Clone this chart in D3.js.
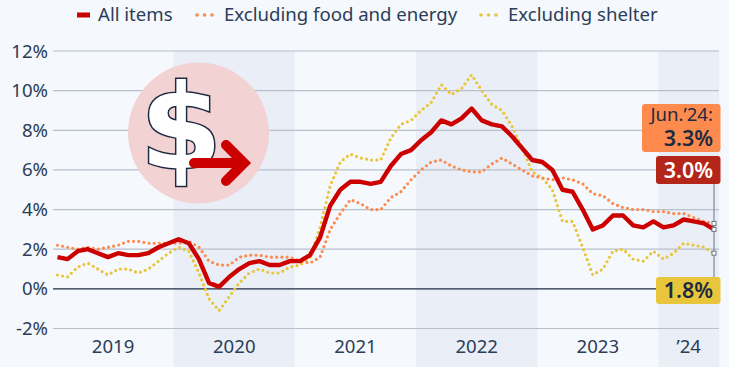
<!DOCTYPE html>
<html>
<head>
<meta charset="utf-8">
<script src="https://cdn.jsdelivr.net/npm/d3@7"></script>
<style>
  html, body { margin: 0; padding: 0; background: #f5f8fc; overflow: hidden; }
  text { font-family: "Noto Sans", sans-serif; }
</style>
</head>
<body>
<div id="chart"></div>
<script>
// monthly values, Jan 2019 to Jun 2024
const allItems = [
  1.6, 1.5, 1.9, 2.0, 1.8, 1.6, 1.8, 1.7, 1.7, 1.8, 2.1, 2.3,
  2.5, 2.3, 1.5, 0.3, 0.1, 0.6, 1.0, 1.3, 1.4, 1.2, 1.2, 1.4,
  1.4, 1.7, 2.6, 4.2, 5.0, 5.4, 5.4, 5.3, 5.4, 6.2, 6.8, 7.0,
  7.5, 7.9, 8.5, 8.3, 8.6, 9.1, 8.5, 8.3, 8.2, 7.7, 7.1, 6.5,
  6.4, 6.0, 5.0, 4.9, 4.0, 3.0, 3.2, 3.7, 3.7, 3.2, 3.1, 3.4,
  3.1, 3.2, 3.5, 3.4, 3.3, 3.0
];
const exFoodEnergy = [
  2.2, 2.1, 2.0, 2.1, 2.0, 2.1, 2.2, 2.4, 2.4, 2.3, 2.3, 2.3,
  2.3, 2.4, 2.1, 1.4, 1.2, 1.2, 1.6, 1.7, 1.7, 1.6, 1.6, 1.6,
  1.4, 1.3, 1.6, 3.0, 3.8, 4.5, 4.3, 4.0, 4.0, 4.6, 4.9, 5.5,
  6.0, 6.4, 6.5, 6.2, 6.0, 5.9, 5.9, 6.3, 6.6, 6.3, 6.0, 5.7,
  5.6, 5.5, 5.6, 5.5, 5.3, 4.8, 4.7, 4.3, 4.1, 4.0, 4.0, 3.9,
  3.9, 3.8, 3.8, 3.6, 3.4, 3.3
];
const exShelter = [
  0.7, 0.6, 1.1, 1.3, 1.0, 0.7, 1.0, 1.0, 0.8, 1.0, 1.4, 1.8,
  2.1, 1.9, 0.8, -0.5, -1.1, -0.4, 0.3, 0.8, 1.0, 0.8, 0.8, 1.1,
  1.2, 1.6, 3.1, 5.2, 6.4, 6.8, 6.6, 6.5, 6.5, 7.6, 8.3, 8.5,
  9.0, 9.4, 10.3, 9.8, 10.1, 10.8, 10.0, 9.3, 9.0, 8.2, 7.1, 5.9,
  5.6, 5.0, 3.4, 3.4, 2.1, 0.7, 1.0, 1.9, 2.0, 1.5, 1.4, 1.9,
  1.5, 1.8, 2.3, 2.2, 2.1, 1.8
];
const yTicks = [-2, 0, 2, 4, 6, 8, 10, 12];
const yearLabels = ["2019", "2020", "2021", "2022", "2023", "’24"];
const yearStarts = [0, 12, 24, 36, 48, 60];   // month index
const seriesNames = ["All items", "Excluding food and energy", "Excluding shelter"];

const width = 729, height = 367;
const ink = "#2b3d57", dark = "#1c2b42";
const red = "#cc0000", orange = "#ff8a4d", yellow = "#e8c53a";

const x = d3.scaleLinear().domain([0, 65]).range([57.5, 714]);
const y = d3.scaleLinear().domain([-2, 12]).range([328.5, 51]);
const lastMonth = x.domain()[1];

const svg = d3.select("#chart").append("svg")
  .attr("width", width).attr("height", height)
  .style("display", "block");

// shaded bands for every second year
yearStarts.forEach((s, i) => {
  if (i % 2 === 0) return;
  const end = Math.min(s + 12, lastMonth + 1);
  svg.append("rect")
    .attr("x", x(s - 0.5)).attr("y", y(12))
    .attr("width", x(end - 0.5) - x(s - 0.5))
    .attr("height", height - y(12))
    .attr("fill", "#eaeff7");
});

// grid lines
svg.selectAll(".grid").data(yTicks).join("line")
  .attr("class", "grid")
  .attr("x1", 53).attr("x2", x(lastMonth + 0.5))
  .attr("y1", d => y(d)).attr("y2", d => y(d))
  .attr("stroke", d => d === 0 ? dark : "#b8c0ce")
  .attr("stroke-width", d => d === 12 ? 1.5 : 1.2)
  .attr("stroke-opacity", d => d === 12 ? 0.7 : 1);

svg.selectAll(".ytick").data(yTicks).join("text")
  .attr("class", "ytick")
  .attr("x", 48).attr("y", d => y(d)).attr("dy", "0.35em")
  .attr("text-anchor", "end")
  .attr("font-size", 18.6).attr("fill", ink)
  .text(d => d + "%");

svg.selectAll(".xtick").data(yearLabels).join("text")
  .attr("class", "xtick")
  .attr("x", (d, i) => (x(yearStarts[i] - 0.5) + x(Math.min(yearStarts[i] + 12, lastMonth + 1) - 0.5)) / 2)
  .attr("y", 353)
  .attr("text-anchor", "middle")
  .attr("font-size", 18.6).attr("fill", ink)
  .text(d => d);

// dollar icon
const icon = svg.append("g");
icon.append("circle").attr("cx", 198.5).attr("cy", 133).attr("r", 70.5).attr("fill", "#f3d2d4");
icon.append("text")
  .attr("x", 181).attr("y", 169)
  .attr("text-anchor", "middle")
  .attr("font-size", 118).attr("font-weight", 700)
  .style("font-family", "'DejaVu Sans', sans-serif")
  .attr("fill", "#fff").attr("stroke", dark).attr("stroke-width", 3)
  .attr("paint-order", "stroke")
  .text("$");
icon.append("path")
  .attr("d", "M194,163H244M226,145L244,163L226,181")
  .attr("fill", "none").attr("stroke", red)
  .attr("stroke-width", 10).attr("stroke-linecap", "round").attr("stroke-linejoin", "miter");

// series
const line = d3.line().x((d, i) => x(i)).y(d => y(d));

svg.append("path").datum(exShelter)
  .attr("d", line).attr("fill", "none")
  .attr("stroke", yellow).attr("stroke-width", 3.2)
  .attr("stroke-linecap", "round").attr("stroke-dasharray", "0 5.2");
svg.append("path").datum(exFoodEnergy)
  .attr("d", line).attr("fill", "none")
  .attr("stroke", orange).attr("stroke-width", 3.2)
  .attr("stroke-linecap", "round").attr("stroke-dasharray", "0 5.2");
svg.append("path").datum(allItems)
  .attr("d", line).attr("fill", "none")
  .attr("stroke", red).attr("stroke-width", 4.4)
  .attr("stroke-linejoin", "round");

// connector and end markers
const endX = x(lastMonth);
svg.append("line")
  .attr("x1", endX).attr("x2", endX)
  .attr("y1", 184).attr("y2", 278)
  .attr("stroke", "#6c7788").attr("stroke-width", 1);
[exFoodEnergy, allItems, exShelter].forEach(s => {
  svg.append("rect")
    .attr("x", endX - 2).attr("y", y(s[s.length - 1]) - 2)
    .attr("width", 4).attr("height", 4)
    .attr("fill", "#fff").attr("stroke", "#6c7788").attr("stroke-width", 1);
});

// end labels
svg.append("rect").attr("x", 642).attr("y", 104).attr("width", 78.5).attr("height", 48)
  .attr("rx", 3).attr("fill", orange);
svg.append("text").attr("x", 713).attr("y", 121).attr("text-anchor", "end")
  .attr("font-size", 18.6).attr("fill", dark).text("Jun.’24:");
svg.append("text").attr("x", 713).attr("y", 146).attr("text-anchor", "end")
  .attr("font-size", 21.5).attr("font-weight", 600).attr("fill", dark)
  .text(exFoodEnergy[exFoodEnergy.length - 1].toFixed(1) + "%");

svg.append("rect").attr("x", 656).attr("y", 156).attr("width", 64.5).attr("height", 28)
  .attr("rx", 3).attr("fill", "#b5261a");
svg.append("text").attr("x", 713).attr("y", 177.5).attr("text-anchor", "end")
  .attr("font-size", 21.5).attr("font-weight", 600).attr("fill", "#fff")
  .text(allItems[allItems.length - 1].toFixed(1) + "%");

svg.append("rect").attr("x", 656).attr("y", 277).attr("width", 64.5).attr("height", 27)
  .attr("rx", 3).attr("fill", yellow);
svg.append("text").attr("x", 713).attr("y", 298).attr("text-anchor", "end")
  .attr("font-size", 21.5).attr("font-weight", 600).attr("fill", dark)
  .text(exShelter[exShelter.length - 1].toFixed(1) + "%");

// legend
const legendX = [98, 224, 508];
const swatchX = [77, 197, 481];
seriesNames.forEach((name, i) => {
  svg.append("line")
    .attr("x1", swatchX[i]).attr("x2", swatchX[i] + (i === 0 ? 13 : 20))
    .attr("y1", 15).attr("y2", 15)
    .attr("stroke", [red, orange, yellow][i])
    .attr("stroke-width", i === 0 ? 5 : 3.6)
    .attr("stroke-linecap", i === 0 ? "butt" : "round")
    .attr("stroke-dasharray", i === 0 ? null : "0 7.5");
  svg.append("text")
    .attr("x", legendX[i]).attr("y", 21)
    .attr("font-size", 18.6).attr("fill", ink)
    .text(name);
});
</script>
</body>
</html>
